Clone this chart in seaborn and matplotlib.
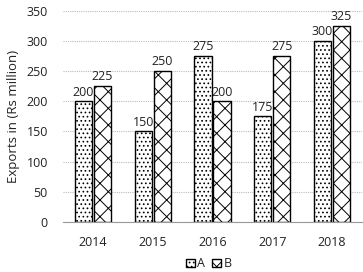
import matplotlib
matplotlib.use("Agg")
import matplotlib.pyplot as plt
import seaborn as sns
import pandas as pd
from matplotlib.patches import Patch

years = ["2014", "2015", "2016", "2017", "2018"]
series_a = [200, 150, 275, 175, 300]
series_b = [225, 250, 200, 275, 325]
yticks = [0, 50, 100, 150, 200, 250, 300, 350]

sns.set_style("white")
plt.rcParams['font.family'] = ['Open Sans', 'DejaVu Sans']
plt.rcParams['hatch.linewidth'] = 0.7

df = pd.DataFrame({
    "Year": years * 2,
    "Value": series_a + series_b,
    "Series": ["A"] * len(years) + ["B"] * len(years),
})

txt = "#222222"
fig, ax = plt.subplots(figsize=(3.63, 2.72), dpi=100)
fig.subplots_adjust(left=0.174, right=0.997, top=0.96, bottom=0.184)

sns.barplot(data=df, x="Year", y="Value", hue="Series", ax=ax,
            palette=["white", "white"], edgecolor="black", linewidth=1.0,
            width=0.64, gap=0.1, legend=False)

hatches = {"A": "....", "B": "xx"}
for container, s in zip(ax.containers, ["A", "B"]):
    for bar in container:
        bar.set_hatch(hatches[s])
    ax.bar_label(container, padding=2, fontsize=9, color=txt)

ax.set_ylim(0, 350)
ax.set_yticks(yticks)
ax.set_xlim(-0.5, 4.5)
ax.yaxis.grid(True, linestyle=(0, (1, 1)), color="#bbbbbb", linewidth=0.8)
ax.set_axisbelow(True)
for side in ["top", "right", "left"]:
    ax.spines[side].set_visible(False)
ax.spines["bottom"].set_color("#999999")
ax.tick_params(axis="y", length=0, labelsize=9, pad=11, labelcolor=txt)
ax.tick_params(axis="x", length=0, labelsize=9, pad=10, labelcolor=txt)
ax.set_xlabel("")
ax.set_ylabel("Exports in (Rs million)", fontsize=9.5, color=txt, labelpad=5)

handles = [Patch(facecolor="white", edgecolor="black", hatch="....", label="A"),
           Patch(facecolor="white", edgecolor="black", hatch="xx", label="B")]
fig.legend(handles=handles, loc="lower center", ncol=2, frameon=False,
           fontsize=9, handlelength=0.7, handleheight=0.7, handletextpad=0.2,
           columnspacing=0.6, bbox_to_anchor=(0.575, -0.035), labelcolor=txt)

fig.savefig("out.png", dpi=100)
